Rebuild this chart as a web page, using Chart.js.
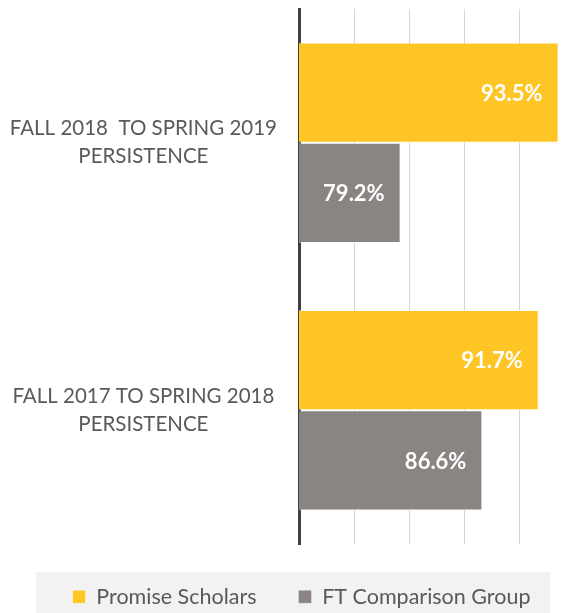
<!DOCTYPE html>
<html>
<head>
<meta charset="utf-8">
<script src="https://cdn.jsdelivr.net/npm/chart.js@4.4.1/dist/chart.umd.min.js"></script>
<style>
  html, body { margin: 0; padding: 0; background: #fff; }
  #wrap { width: 573px; height: 613px; position: relative; }
</style>
</head>
<body>
<div id="wrap"><canvas id="chart01"></canvas></div>
<script>
  // categories (top to bottom) and series values
  const aLabel = [
    ["FALL 2018  TO SPRING 2019", "PERSISTENCE"],
    ["FALL 2017 TO SPRING 2018", "PERSISTENCE"]
  ];
  const aPromise = [93.5, 91.7];
  const aFT = [79.2, 86.6];
  const aSeries = ["Promise Scholars", "FT Comparison Group"];
  const xMin = 70, xMax = 94.8, xStep = 5;

  const sFont = "Lato, 'Open Sans', sans-serif";

  // white value labels inside the bar ends
  const valueLabels = {
    id: "valueLabels",
    afterDatasetsDraw(chart) {
      const ctx = chart.ctx;
      ctx.save();
      ctx.fillStyle = "#ffffff";
      ctx.font = "bold 22px " + sFont;
      ctx.textAlign = "right";
      ctx.textBaseline = "middle";
      chart.data.datasets.forEach((ds, i) => {
        chart.getDatasetMeta(i).data.forEach((bar, j) => {
          ctx.fillText(ds.data[j].toFixed(1) + "%", bar.x - 16, bar.y + 1);
        });
      });
      ctx.restore();
    }
  };

  // light grey panel behind the legend
  const legendPanel = {
    id: "legendPanel",
    beforeDraw(chart) {
      const ctx = chart.ctx;
      const top = chart.chartArea.bottom + 28;
      ctx.save();
      ctx.fillStyle = "#f2f2f2";
      ctx.fillRect(36, top, 514, chart.height - top);
      ctx.restore();
    }
  };

  new Chart(document.getElementById("chart01"), {
    type: "bar",
    data: {
      labels: aLabel,
      datasets: [
        {
          label: aSeries[0],
          data: aPromise,
          backgroundColor: "#FFC524",
          borderColor: "rgba(255,255,255,0.45)",
          borderWidth: 1,
          categoryPercentage: 0.75,
          barPercentage: 1.0
        },
        {
          label: aSeries[1],
          data: aFT,
          backgroundColor: "#8A8482",
          borderColor: "rgba(255,255,255,0.35)",
          borderWidth: 1,
          categoryPercentage: 0.75,
          barPercentage: 1.0
        }
      ]
    },
    options: {
      indexAxis: "y",
      responsive: true,
      maintainAspectRatio: false,
      animation: false,
      // negative right padding only shifts the legend centre to the right
      layout: { padding: { top: 9, right: -30, left: 0, bottom: 0 } },
      plugins: {
        tooltip: { enabled: false },
        legend: {
          position: "bottom",
          maxHeight: 69,
          labels: {
            boxWidth: 13,
            boxHeight: 13,
            padding: 42,
            color: "#595959",
            font: { family: sFont, size: 21.5 }
          }
        }
      },
      scales: {
        x: {
          min: xMin,
          max: xMax,
          z: 1,
          ticks: { display: false, stepSize: xStep, includeBounds: false },
          grid: { color: "rgba(0,0,0,0.16)", lineWidth: 1, drawTicks: false },
          border: { display: false },
          afterFit: function (scale) { scale.height = 0; }
        },
        y: {
          z: 2,
          ticks: {
            color: "#595959",
            font: { family: sFont, size: 20.5, lineHeight: 1.37 },
            crossAlign: "center",
            padding: 22
          },
          grid: { display: false, drawTicks: false },
          border: { display: true, color: "#404040", width: 3 },
          afterFit: function (scale) {
            scale.width = 299;
            scale.paddingTop = 0;
            scale.paddingBottom = 0;
          }
        }
      }
    },
    plugins: [valueLabels, legendPanel]
  });
</script>
</body>
</html>
